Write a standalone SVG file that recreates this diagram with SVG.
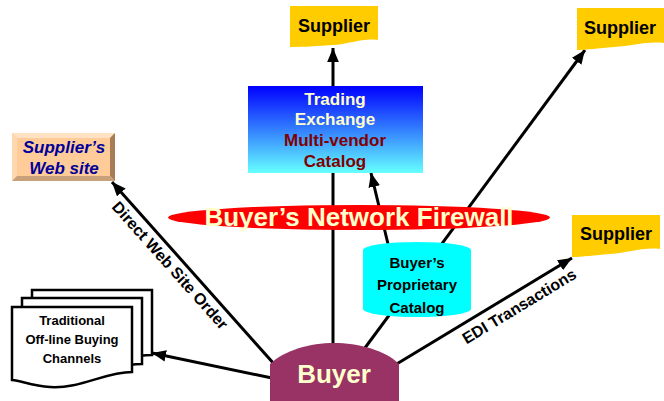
<svg xmlns="http://www.w3.org/2000/svg" width="664" height="401" viewBox="0 0 664 401">
<style>
.b{font-family:"Liberation Sans",Arial,sans-serif;font-weight:bold;text-anchor:middle}
.ln{stroke:#000;stroke-width:3;fill:none}
.doc{fill:#fff;stroke:#000;stroke-width:2.5}
.sup{fill:#ffcc00}
.cream{fill:#ffffcc}
.maroon{fill:#800000}
</style>
<defs>
<marker id="ah" markerUnits="userSpaceOnUse" markerWidth="14" markerHeight="12" refX="12" refY="5" orient="auto" viewBox="0 0 12 10">
<path d="M0,0 L12,5 L0,10 z" fill="#000"/>
</marker>
<linearGradient id="gx" x1="0" y1="0" x2="0" y2="1">
<stop offset="0" stop-color="#0000ff"/>
<stop offset="1" stop-color="#66ffff"/>
</linearGradient>
</defs>
<g id="connectors">
<path class="ln" d="M333,350 V48" marker-end="url(#ah)"/>
<path class="ln" d="M275,365 L112,182" marker-end="url(#ah)"/>
<path class="ln" d="M272,378 L152,353" marker-end="url(#ah)"/>
<path class="ln" d="M359,356 L585,50" marker-end="url(#ah)"/>
<path class="ln" d="M388,244 L371,173" marker-end="url(#ah)"/>
<path class="ln" d="M395,365 L572,258" marker-end="url(#ah)"/>
<text class="b" font-size="16" transform="translate(166,269) rotate(48.2)">Direct Web Site Order</text>
<text class="b" font-size="16" transform="translate(522,311) rotate(-31.1)">EDI Transactions</text>
</g>
<g id="supplier-top">
<path class="sup" d="M290,6 H378 V40 C362,38 350,44 334,45 C318,46 302,47 290,47 Z"/>
<text class="b" font-size="18" x="334" y="32">Supplier</text>
</g>
<g id="supplier-right">
<path class="sup" d="M577,8 H664 V43 C646,41 632,46 614,47 C598,48 586,50 577,50 Z"/>
<text class="b" font-size="18" x="620" y="34">Supplier</text>
</g>
<g id="supplier-edi">
<path class="sup" d="M572,215 H660 V249 C642,247 628,253 610,254 C595,255 582,257 572,257 Z"/>
<text class="b" font-size="18" x="616" y="240">Supplier</text>
</g>
<g id="trading-exchange">
<rect x="248" y="86" width="175" height="87" fill="url(#gx)"/>
<text class="b cream" font-size="17" x="335" y="105">Trading</text>
<text class="b cream" font-size="17" x="335" y="125">Exchange</text>
<text class="b maroon" font-size="17" x="335" y="146">Multi-vendor</text>
<text class="b maroon" font-size="17" x="335" y="167">Catalog</text>
</g>
<g id="firewall">
<ellipse cx="359" cy="217.5" rx="191" ry="12.5" fill="#ff0000"/>
<text class="b cream" font-size="26" x="359" y="226">Buyer’s Network Firewall</text>
</g>
<g id="proprietary-catalog">
<rect x="363" y="250" width="108" height="59" fill="#00ffff"/>
<ellipse cx="417" cy="250" rx="54" ry="8" fill="#00ffff"/>
<ellipse cx="417" cy="309" rx="54" ry="8" fill="#00ffff"/>
<text class="b" font-size="15" x="417" y="268">Buyer’s</text>
<text class="b" font-size="15" x="417" y="290">Proprietary</text>
<text class="b" font-size="15" x="417" y="313">Catalog</text>
</g>
<g id="suppliers-web-site">
<rect x="12" y="133" width="103" height="48" fill="#ffcc99"/>
<polygon points="12,133 115,133 110,138 17,138" fill="#ffe2c4"/>
<polygon points="12,133 17,138 17,176 12,181" fill="#ffd8b0"/>
<polygon points="115,133 115,181 110,176 110,138" fill="#a87c56"/>
<polygon points="12,181 115,181 110,176 17,176" fill="#c8a07a"/>
<text class="b" font-size="17" font-style="italic" fill="#000099" x="64" y="153">Supplier’s</text>
<text class="b" font-size="17" font-style="italic" fill="#000099" x="64" y="174">Web site</text>
</g>
<g id="traditional-channels">
<path class="doc" d="M32,290 H152 V355 C130,355 115,362 95,362 C75,362 50,358 32,357 Z"/>
<path class="doc" d="M22,298 H142 V364 C120,364 105,371 85,371 C65,371 40,367 22,366 Z"/>
<path class="doc" d="M12,307 H132 V372 C105,372 80,389 50,387 C32,386 22,381 12,380 Z"/>
<text class="b" font-size="13" x="72" y="325">Traditional</text>
<text class="b" font-size="13" x="72" y="344">Off-line Buying</text>
<text class="b" font-size="13" x="72" y="363">Channels</text>
</g>
<g id="buyer">
<path d="M270,401 V364 C285,350 310,343 334,343 C358,343 385,350 399,364 V401 Z" fill="#993366"/>
<text class="b cream" font-size="26" x="334" y="383">Buyer</text>
</g>
</svg>
